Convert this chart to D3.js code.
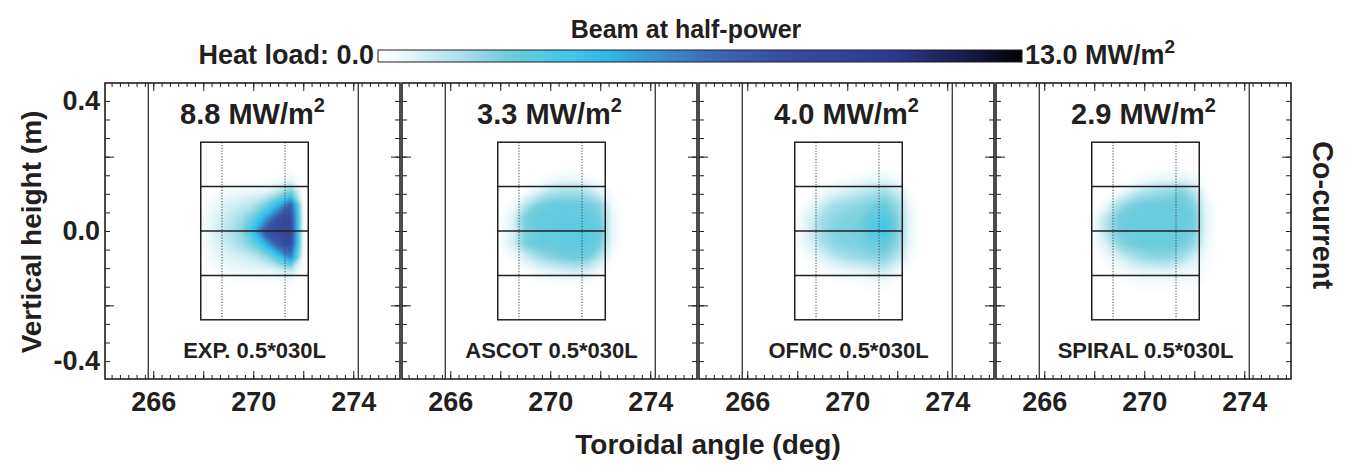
<!DOCTYPE html>
<html>
<head>
<meta charset="utf-8">
<script src="https://cdn.jsdelivr.net/npm/d3@7"></script>
<style>
body { margin: 0; background: #fff; }
text { font-family: "Liberation Sans", Arial, sans-serif; font-weight: bold; fill: #231f20; }
</style>
</head>
<body>
<script>
// chart data
var modelNames = ["EXP.", "ASCOT", "OFMC", "SPIRAL"];
var peakLoads = ["8.8", "3.3", "4.0", "2.9"];
var beamName = "0.5*030L";
var heatMin = 0.0;
var heatMax = 13.0;
var xTicks = [266, 270, 274];
var yTicks = [0.4, 0.0, -0.4];
var gridX = [267.5, 268.0, 268.5, 269.0, 269.5, 270.0, 270.5, 271.0, 271.5, 272.0, 272.5, 273.0];
var gridY = [0.20, 0.16, 0.12, 0.08, 0.04, 0.00, -0.04, -0.08, -0.12, -0.16, -0.20];

// heat load (MW/m2), rows follow gridY, columns follow gridX
var heatExp = [
    [0, 0, 0, 0, 0, 0, 0, 0, 0, 0, 0, 0],
    [0, 0, 0, 0.05, 0.1, 0.1, 0.1, 0.2, 0.5, 0, 0, 0],
    [0, 0, 0.2, 0.35, 0.4, 0.5, 0.7, 1.4, 2.6, 0, 0, 0],
    [0, 0.1, 0.5, 0.9, 1.2, 1.6, 2.6, 4.6, 7.4, 0.2, 0, 0],
    [0, 0.15, 0.8, 1.3, 1.8, 2.8, 5.2, 8.0, 8.6, 0.3, 0, 0],
    [0, 0.2, 1.0, 1.5, 2.2, 4.4, 8.0, 8.6, 8.8, 0.3, 0, 0],
    [0, 0.15, 0.8, 1.3, 1.8, 2.7, 4.8, 7.8, 8.4, 0.3, 0, 0],
    [0, 0.1, 0.5, 0.8, 1.0, 1.3, 2.0, 3.6, 6.2, 0.2, 0, 0],
    [0, 0, 0.2, 0.4, 0.5, 0.5, 0.6, 0.9, 1.4, 0.1, 0, 0],
    [0, 0, 0, 0.05, 0.1, 0.1, 0.1, 0.1, 0.2, 0, 0, 0],
    [0, 0, 0, 0, 0, 0, 0, 0, 0, 0, 0, 0]
];
var heatAscot = [
    [0, 0, 0, 0, 0, 0, 0, 0, 0, 0, 0, 0],
    [0, 0, 0, 0, 0.1, 0.3, 0.5, 0.5, 0.3, 0.1, 0, 0],
    [0, 0, 0, 0.2, 0.8, 1.5, 1.8, 1.8, 1.5, 0.8, 0.1, 0],
    [0, 0, 0.3, 1.5, 2.5, 2.8, 2.9, 2.9, 2.7, 2.2, 0.3, 0],
    [0, 0.1, 0.8, 2.6, 3.0, 3.1, 3.2, 3.1, 3.0, 2.6, 0.5, 0],
    [0, 0.1, 0.8, 2.4, 2.8, 3.0, 3.1, 3.2, 3.3, 2.8, 0.5, 0],
    [0, 0.2, 1.0, 2.5, 2.9, 3.0, 3.1, 3.2, 3.2, 2.6, 0.4, 0],
    [0, 0, 0.3, 1.0, 1.8, 2.2, 2.6, 2.8, 2.6, 1.5, 0.2, 0],
    [0, 0, 0, 0.2, 0.5, 0.8, 1.0, 1.2, 1.0, 0.4, 0, 0],
    [0, 0, 0, 0, 0.1, 0.1, 0.2, 0.2, 0.2, 0, 0, 0],
    [0, 0, 0, 0, 0, 0, 0, 0, 0, 0, 0, 0]
];
var heatOfmc = [
    [0, 0, 0, 0, 0, 0, 0, 0, 0, 0, 0, 0],
    [0, 0, 0, 0, 0.1, 0.2, 0.3, 0.5, 0.6, 0.3, 0, 0],
    [0, 0, 0, 0.3, 0.7, 1.0, 1.3, 1.6, 1.8, 1.2, 0.2, 0],
    [0, 0, 0.4, 1.2, 1.8, 2.0, 2.2, 2.5, 2.8, 2.0, 0.4, 0],
    [0, 0.2, 0.9, 1.8, 2.2, 2.4, 2.5, 3.2, 3.6, 2.4, 0.6, 0],
    [0, 0.2, 1.0, 1.9, 2.4, 2.5, 2.6, 3.5, 4.0, 2.5, 0.6, 0],
    [0, 0.2, 0.8, 1.7, 2.2, 2.4, 2.5, 2.8, 3.0, 2.2, 0.5, 0],
    [0, 0, 0.3, 0.8, 1.4, 1.8, 2.0, 2.2, 2.3, 1.5, 0.3, 0],
    [0, 0, 0, 0.2, 0.4, 0.6, 0.8, 1.0, 1.2, 0.6, 0.1, 0],
    [0, 0, 0, 0, 0.1, 0.1, 0.2, 0.3, 0.3, 0.1, 0, 0],
    [0, 0, 0, 0, 0, 0, 0, 0, 0, 0, 0, 0]
];
var heatSpiral = [
    [0, 0, 0, 0, 0, 0, 0, 0, 0, 0, 0, 0],
    [0, 0, 0, 0, 0.1, 0.3, 0.5, 0.6, 0.8, 0.4, 0, 0],
    [0, 0, 0, 0.3, 1.0, 1.6, 1.9, 2.1, 2.4, 1.5, 0.2, 0],
    [0, 0, 0.5, 1.8, 2.5, 2.7, 2.8, 2.8, 2.8, 2.3, 0.5, 0],
    [0, 0.3, 1.5, 2.7, 2.8, 2.9, 2.9, 2.9, 2.9, 2.6, 0.6, 0],
    [0, 0.3, 1.6, 2.6, 2.8, 2.9, 2.9, 2.9, 2.8, 2.5, 0.6, 0],
    [0, 0.2, 1.0, 2.2, 2.6, 2.8, 2.8, 2.8, 2.6, 2.0, 0.4, 0],
    [0, 0, 0.4, 1.0, 1.6, 2.0, 2.2, 2.2, 1.8, 1.0, 0.3, 0],
    [0, 0, 0.1, 0.3, 0.5, 0.8, 0.8, 0.9, 0.6, 0.4, 0.2, 0],
    [0, 0, 0, 0.1, 0.2, 0.3, 0.3, 0.3, 0.2, 0.3, 0.1, 0],
    [0, 0, 0, 0, 0, 0, 0, 0, 0, 0, 0, 0]
];
var heatPanels = [heatExp, heatAscot, heatOfmc, heatSpiral];

// port geometry (deg / m)
var portEdges = [265.8, 274.2];
var boxX = [267.9, 272.2];
var boxY = [-0.273, 0.273];
var boxRows = [0.137, 0, -0.137];
var boxDots = [268.75, 271.27];

var W = 1359, H = 474;
var panelW = 295, panelH = 296, panelStep = 297;
var marginLeft = 105, marginTop = 83;

var svg = d3.select("body").append("svg")
    .attr("width", W).attr("height", H);

var x = d3.scaleLinear().domain([264.07, 275.87]).range([0, panelW]);
var y = d3.scaleLinear().domain([-0.455, 0.455]).range([panelH, 0]);

var color = d3.scaleLinear()
    .domain([0, 0.05, 0.2, 0.33, 0.42, 0.52, 0.65, 0.8, 0.92, 1].map(function (t) { return heatMin + t * (heatMax - heatMin); }))
    .range(["#ffffff", "#e3f5f8", "#72cddc", "#2ec4f1", "#3a95d3", "#3b6ab4", "#36499d", "#2d3990", "#141945", "#000000"]);

var defs = svg.append("defs");
defs.append("filter").attr("id", "soft")
    .append("feGaussianBlur").attr("stdDeviation", 1.3);
defs.append("clipPath").attr("id", "clip")
    .append("rect").attr("width", panelW).attr("height", panelH);

// colour bar
var barX = 378, barW = 644, barY = 50, barH = 12;
var grad = defs.append("linearGradient").attr("id", "bar");
d3.range(0, 1.0001, 0.05).forEach(function (t) {
    grad.append("stop").attr("offset", t).attr("stop-color", color(heatMin + t * (heatMax - heatMin)));
});
svg.append("rect").attr("x", barX).attr("y", barY).attr("width", barW).attr("height", barH)
    .attr("fill", "url(#bar)").attr("stroke", "#231f20").attr("stroke-width", 1);
svg.append("text").attr("x", 686).attr("y", 38).attr("text-anchor", "middle")
    .style("font-size", "25px").text("Beam at half-power");
svg.append("text").attr("x", barX - 4).attr("y", 64).attr("text-anchor", "end")
    .style("font-size", "27px").text("Heat load: " + heatMin.toFixed(1));
var maxText = svg.append("text").attr("x", barX + barW + 3).attr("y", 64).style("font-size", "27px");
maxText.append("tspan").text(heatMax.toFixed(1) + " MW/m");
maxText.append("tspan").attr("dy", -11).style("font-size", "19px").text("2");

var nx = gridX.length, ny = gridY.length;
var dx = gridX[1] - gridX[0], dy = gridY[0] - gridY[1];
var thresholds = d3.range(0.1, 9.5, 0.1);

heatPanels.forEach(function (heat, p) {
    var g = svg.append("g").attr("transform", "translate(" + (marginLeft + p * panelStep) + "," + marginTop + ")");

    // heat load map
    var values = [].concat.apply([], heat);
    var contours = d3.contours().size([nx, ny]).thresholds(thresholds)(values);
    var path = d3.geoPath(d3.geoTransform({
        point: function (cx, cy) {
            this.stream.point(x(gridX[0] + (cx - 0.5) * dx), y(gridY[0] - (cy - 0.5) * dy));
        }
    }));
    g.append("g").attr("clip-path", "url(#clip)").append("g").attr("filter", "url(#soft)")
        .selectAll("path").data(contours).enter().append("path")
        .attr("d", path)
        .attr("fill", function (d) { return color(d.value); });

    // port edges
    g.selectAll(".edge").data(portEdges).enter().append("line")
        .attr("x1", function (d) { return x(d); }).attr("x2", function (d) { return x(d); })
        .attr("y1", 0).attr("y2", panelH)
        .attr("stroke", "#231f20").attr("stroke-width", 1.2);

    // inner box
    g.selectAll(".dot").data(boxDots).enter().append("line")
        .attr("x1", function (d) { return x(d); }).attr("x2", function (d) { return x(d); })
        .attr("y1", y(boxY[1])).attr("y2", y(boxY[0]))
        .attr("stroke", "#444").attr("stroke-width", 1).attr("stroke-dasharray", "1.2,1.6");
    g.selectAll(".row").data(boxRows).enter().append("line")
        .attr("x1", x(boxX[0])).attr("x2", x(boxX[1]))
        .attr("y1", function (d) { return y(d); }).attr("y2", function (d) { return y(d); })
        .attr("stroke", "#231f20").attr("stroke-width", 1.5);
    g.append("rect")
        .attr("x", x(boxX[0])).attr("y", y(boxY[1]))
        .attr("width", x(boxX[1]) - x(boxX[0])).attr("height", y(boxY[0]) - y(boxY[1]))
        .attr("fill", "none").attr("stroke", "#231f20").attr("stroke-width", 1.5);

    // ticks on all four sides, pointing inward
    var minorX = d3.range(-5, 30).map(function (k) { return 266 + k / 3; })
        .filter(function (v) { return v > x.domain()[0] && v < x.domain()[1]; });
    var majorX = minorX.filter(function (v) { return Math.abs((v - 266) / 2 - Math.round((v - 266) / 2)) < 1e-6; });
    var minorY = d3.range(0, 15).map(function (k) { return 0.4 - k * 0.4 / 7; });
    var majorY = [minorY[3], minorY[11]];

    function tickAxis(axis, vals, size, tr) {
        var a = g.append("g").attr("transform", tr)
            .call(axis.tickValues(vals).tickSize(size).tickFormat(""));
        a.select(".domain").remove();
        a.selectAll("line").attr("stroke", "#231f20").attr("stroke-width", 1);
    }
    tickAxis(d3.axisBottom(x), minorX, -4, "translate(0," + panelH + ")");
    tickAxis(d3.axisBottom(x), majorX, -8, "translate(0," + panelH + ")");
    tickAxis(d3.axisTop(x), minorX, -4, "translate(0,0)");
    tickAxis(d3.axisTop(x), majorX, -8, "translate(0,0)");
    tickAxis(d3.axisLeft(y), minorY, -5, "translate(0,0)");
    tickAxis(d3.axisLeft(y), majorY, -9, "translate(0,0)");
    tickAxis(d3.axisRight(y), minorY, -5, "translate(" + panelW + ",0)");
    tickAxis(d3.axisRight(y), majorY, -9, "translate(" + panelW + ",0)");

    // x tick labels
    var xl = g.append("g").attr("transform", "translate(0," + panelH + ")")
        .call(d3.axisBottom(x).tickValues(xTicks).tickSize(0).tickPadding(13).tickFormat(d3.format("d")));
    xl.select(".domain").remove();
    xl.selectAll("text").style("font-size", "27px").style("font-family", null).attr("fill", "#231f20");

    if (p === 0) {
        var yl = g.append("g")
            .call(d3.axisLeft(y).tickValues(yTicks).tickSize(0).tickPadding(5)
                .tickFormat(function (d) { return d.toFixed(1); }));
        yl.select(".domain").remove();
        yl.selectAll("text").style("font-size", "27px").style("font-family", null).attr("fill", "#231f20");
    }

    // frame
    g.append("rect").attr("width", panelW).attr("height", panelH)
        .attr("fill", "none").attr("stroke", "#231f20").attr("stroke-width", 1.6);

    // peak heat load title
    var t = g.append("text").attr("x", panelW / 2).attr("y", 41).attr("text-anchor", "middle")
        .style("font-size", "29px");
    t.append("tspan").text(peakLoads[p] + " MW/m");
    t.append("tspan").attr("dy", -12).style("font-size", "20px").text("2");

    g.append("text").attr("x", panelW / 2 + 2).attr("y", 275).attr("text-anchor", "middle")
        .style("font-size", "22px").text(modelNames[p] + " " + beamName);
});

// axis titles
svg.append("text").attr("transform", "translate(41,232) rotate(-90)").attr("text-anchor", "middle")
    .style("font-size", "28px").text("Vertical height (m)");
svg.append("text").attr("x", 708).attr("y", 454).attr("text-anchor", "middle")
    .style("font-size", "28px").text("Toroidal angle (deg)");
svg.append("text").attr("transform", "translate(1313,215) rotate(90)").attr("text-anchor", "middle")
    .style("font-size", "29px").text("Co-current");
</script>
</body>
</html>
